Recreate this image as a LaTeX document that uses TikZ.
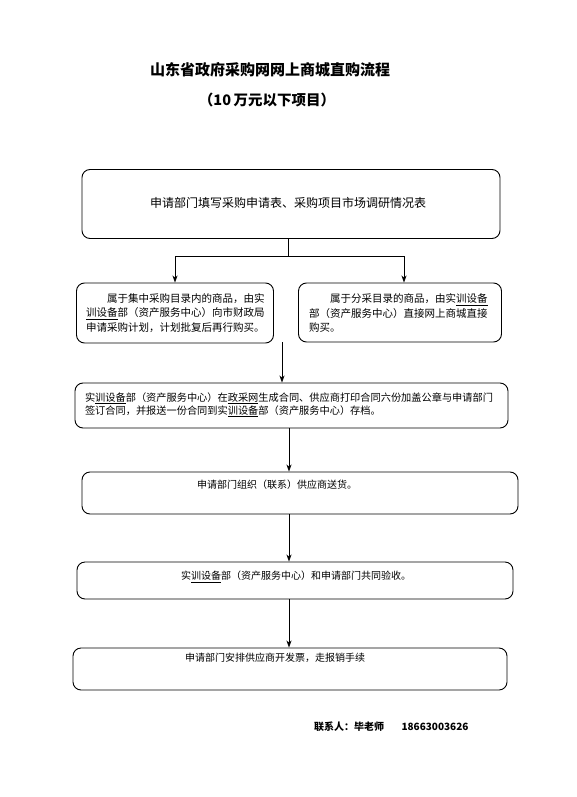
\documentclass[tikz,border=0pt]{standalone}
\usepackage{fontspec}
\setmainfont{Noto Sans CJK SC}
\usetikzlibrary{positioning,arrows.meta}
\tikzset{
  flowbox/.style={draw,rounded corners=8pt,line width=0.9pt,inner sep=0pt},
  boxtext/.style={font=\fontsize{10.5}{15.5}\selectfont,align=left,inner sep=0pt},
  titletext/.style={font=\fontsize{15}{18}\selectfont\bfseries},
  foot/.style={font=\fontsize{10}{12}\selectfont\bfseries},
  link/.style={line width=0.8pt},
  arr/.style={line width=0.8pt,-{Stealth[length=7pt,width=5pt,inset=2pt]}},
}
\begin{document}
\begin{tikzpicture}[x=1pt,y=-1pt]
  \useasboundingbox (0,0) rectangle (577,797);
  % title
  \node[titletext] (title) at (270,70) {山东省政府采购网网上商城直购流程};
  \node[titletext,font=\fontsize{14.5}{18}\selectfont\bfseries] (subtitle) at (267,100) {（10\,万元以下项目）};
  % boxes
  \node[flowbox,minimum width=418pt,minimum height=69pt] (apply) at (291,204) {};
  \node[boxtext,font=\fontsize{12}{14}\selectfont] (applytxt) at (288,203) {申请部门填写采购申请表、采购项目市场调研情况表};
  \node[flowbox,minimum width=197pt,minimum height=60pt] (central) at (175,313) {};
  \node[boxtext,text width=180pt] (centraltxt) at (176,313) {\hspace*{21pt}属于集中采购目录内的商品，由实\\[-1pt]\underline{训设备}部（资产服务中心）向市财政局\\[-1pt]申请采购计划，计划批复后再行购买。};
  \node[flowbox,minimum width=203pt,minimum height=59pt] (dispersed) at (400,312.5) {};
  \node[boxtext,text width=180pt] (dispersedtxt) at (399,313) {\hspace*{21pt}属于分采目录的商品，由实\underline{训设备}\\[-1pt]部（资产服务中心）直接网上商城直接\\[-1pt]购买。};
  \node[flowbox,minimum width=433pt,minimum height=45pt] (contract) at (291.5,405.5) {};
  \node[boxtext,font=\fontsize{10.2}{15}\selectfont,text width=412pt] (contracttxt) at (291,405) {实\underline{训设备}部（资产服务中心）在\underline{政采网}生成合同、供应商打印合同六份加盖公章与申请部门\\[-2pt]签订合同，并报送一份合同到实\underline{训设备}部（资产服务中心）存档。};
  \node[flowbox,minimum width=436pt,minimum height=42pt] (deliver) at (300,493) {};
  \node[boxtext,font=\fontsize{10}{12}\selectfont] (delivertxt) at (277,485) {申请部门组织（联系）供应商送货。};
  \node[flowbox,minimum width=436pt,minimum height=37pt] (accept) at (295,580.5) {};
  \node[boxtext,font=\fontsize{10}{12}\selectfont] (accepttxt) at (296,577) {实\underline{训设备}部（资产服务中心）和申请部门共同验收。};
  \node[flowbox,minimum width=434pt,minimum height=42pt] (invoice) at (290,669) {};
  \node[boxtext,font=\fontsize{10}{12}\selectfont] (invoicetxt) at (275,658) {申请部门安排供应商开发票，走报销手续};
  % footer
  \node[foot] (contact) at (349,727) {联系人：毕老师};
  \node[foot] (phone) at (435,727) {18663003626};
  % connectors
  \coordinate (fork) at (288,256);
  \coordinate (forkR) at (404,256);
  \coordinate (join) at (282,342);
  \coordinate (spine) at (289,0);
  \draw[link] (apply.south -| fork) -- (fork);
  \draw[arr] (fork) -- (fork -| central.north) -- (central.north);
  \draw[arr] (fork) -- (forkR) -- (forkR |- dispersed.north);
  \draw[arr] (join) -- (join |- contract.north);
  \draw[arr] (contract.south -| spine) -- (deliver.north -| spine);
  \draw[arr] (deliver.south -| spine) -- (accept.north -| spine);
  \draw[arr] (accept.south -| spine) -- (invoice.north -| spine);
\end{tikzpicture}
\end{document}
